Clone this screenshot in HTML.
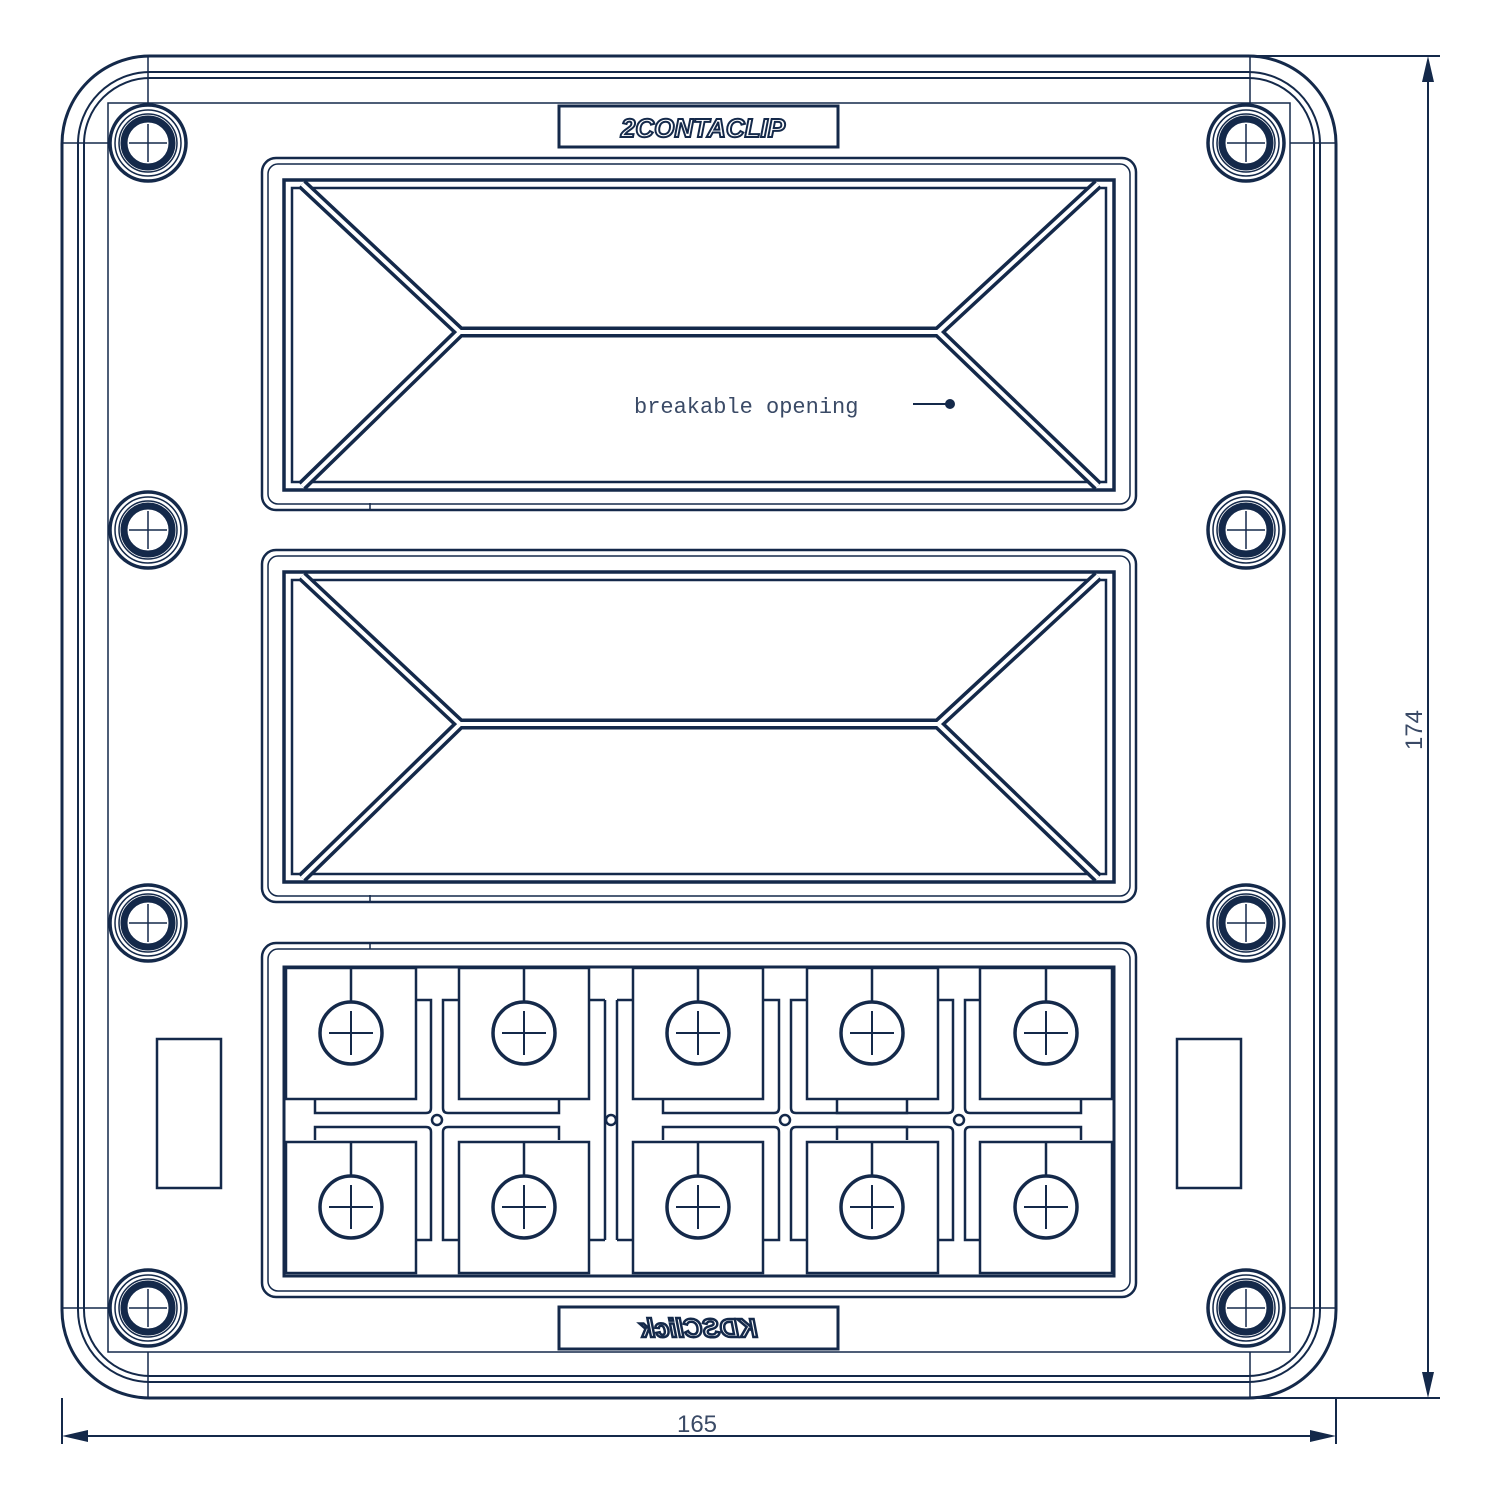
<!DOCTYPE html>
<html><head><meta charset="utf-8"><style>html,body{margin:0;padding:0;background:#fff}svg{display:block}</style></head>
<body>
<svg width="1500" height="1500" viewBox="0 0 1500 1500" xmlns="http://www.w3.org/2000/svg">
<defs>
<g id="screwhole" fill="none" stroke="#14294a">
<circle r="38" stroke-width="3.5"/>
<circle r="33" stroke-width="1.5"/>
<circle r="29" stroke-width="1.5"/>
<circle r="24" stroke-width="7"/>
<line x1="-19" y1="0" x2="19" y2="0" stroke-width="1.5"/>
<line x1="0" y1="-19" x2="0" y2="19" stroke-width="1.5"/>
</g>
<g id="term" fill="none" stroke="#14294a">
<circle r="31" stroke-width="3.5"/>
<line x1="-22" y1="0" x2="22" y2="0" stroke-width="2"/>
<line x1="0" y1="-22" x2="0" y2="22" stroke-width="2"/>
<line x1="0" y1="-31" x2="0" y2="-66" stroke-width="2.5"/>
</g>
<g id="cross" fill="none" stroke="#14294a" stroke-width="2.5">
<path d="M-21,-120 H-6 V-12 Q-6,-7 -11,-7 H-122 V-20"/>
<path d="M21,-120 H6 V-12 Q6,-7 11,-7 H122 V-20"/>
<path d="M-21,120 H-6 V12 Q-6,7 -11,7 H-122 V20"/>
<path d="M21,120 H6 V12 Q6,7 11,7 H122 V20"/>
<circle r="5"/>
</g>
<g id="win">
<rect x="262" y="158" width="874" height="352" rx="14" fill="none" stroke="#14294a" stroke-width="2.5"/>
<rect x="268" y="164" width="862" height="340" rx="10" fill="none" stroke="#14294a" stroke-width="1.5"/>
<line x1="370" y1="503" x2="370" y2="510" stroke="#14294a" stroke-width="1.5"/>
<rect x="284" y="180" width="830" height="310" fill="none" stroke="#14294a" stroke-width="3.5"/>
<rect x="292" y="188" width="814" height="294" fill="none" stroke="#14294a" stroke-width="2.5"/>
<g fill="none" stroke-linejoin="miter">
<path d="M302,184 L460,332 L302,486 M1098,184 L938,332 L1098,486 M460,332 H938" stroke="#14294a" stroke-width="11"/>
<path d="M302,184 L460,332 L302,486 M1098,184 L938,332 L1098,486 M460,332 H938" stroke="#fff" stroke-width="4"/>
</g>
</g>
</defs>

<g fill="none" stroke="#14294a">
<rect x="62" y="56" width="1274" height="1342" rx="88" stroke-width="3"/>
<rect x="78" y="72" width="1242" height="1310" rx="72" stroke-width="2"/>
<rect x="84" y="78" width="1230" height="1298" rx="66" stroke-width="2"/>
<rect x="108" y="103" width="1182" height="1249" stroke-width="1.5"/>
<line x1="148" y1="56" x2="148" y2="103" stroke-width="1.5"/>
<line x1="1250" y1="56" x2="1250" y2="103" stroke-width="1.5"/>
<line x1="148" y1="1352" x2="148" y2="1398" stroke-width="1.5"/>
<line x1="1250" y1="1352" x2="1250" y2="1398" stroke-width="1.5"/>
<line x1="62" y1="143" x2="108" y2="143" stroke-width="1.5"/>
<line x1="1290" y1="143" x2="1336" y2="143" stroke-width="1.5"/>
<line x1="62" y1="1308" x2="108" y2="1308" stroke-width="1.5"/>
<line x1="1290" y1="1308" x2="1336" y2="1308" stroke-width="1.5"/>
</g>

<use href="#screwhole" x="148" y="143"/>
<use href="#screwhole" x="1246" y="143"/>
<use href="#screwhole" x="148" y="530"/>
<use href="#screwhole" x="1246" y="530"/>
<use href="#screwhole" x="148" y="923"/>
<use href="#screwhole" x="1246" y="923"/>
<use href="#screwhole" x="148" y="1308"/>
<use href="#screwhole" x="1246" y="1308"/>

<rect x="559" y="106" width="279" height="41" fill="none" stroke="#14294a" stroke-width="3"/>
<text x="703" y="137" text-anchor="middle" font-family="Liberation Sans, sans-serif" font-size="26" font-weight="bold" font-style="italic" fill="#fff" stroke="#14294a" stroke-width="2">2CONTACLIP</text>
<rect x="559" y="1307" width="279" height="42" fill="none" stroke="#14294a" stroke-width="3"/>
<text transform="translate(1398,0) scale(-1,1)" x="699" y="1337" text-anchor="middle" font-family="Liberation Sans, sans-serif" font-size="26" font-weight="bold" font-style="italic" fill="#fff" stroke="#14294a" stroke-width="2.5">KDSClick</text>

<use href="#win"/>
<use href="#win" y="392"/>

<text x="634" y="413" font-family="Liberation Mono, monospace" font-size="22" fill="#3a4a66">breakable opening</text>
<line x1="913" y1="404" x2="948" y2="404" stroke="#14294a" stroke-width="2"/>
<circle cx="950" cy="404" r="5" fill="#14294a"/>

<g fill="none" stroke="#14294a">
<rect x="262" y="943" width="874" height="354" rx="14" stroke-width="2.5"/>
<rect x="268" y="949" width="862" height="342" rx="10" stroke-width="1.5"/>
<line x1="370" y1="943" x2="370" y2="949" stroke-width="1.5"/>
<rect x="284" y="967" width="830" height="309" stroke-width="3"/>
<g stroke-width="2.5">
<rect x="286" y="968" width="130" height="131"/>
<rect x="459" y="968" width="130" height="131"/>
<rect x="633" y="968" width="130" height="131"/>
<rect x="807" y="968" width="131" height="131"/>
<rect x="980" y="968" width="132" height="131"/>
<rect x="286" y="1142" width="130" height="131"/>
<rect x="459" y="1142" width="130" height="131"/>
<rect x="633" y="1142" width="130" height="131"/>
<rect x="807" y="1142" width="131" height="131"/>
<rect x="980" y="1142" width="132" height="131"/>
<line x1="605" y1="1000" x2="605" y2="1240"/>
<line x1="617" y1="1000" x2="617" y2="1240"/>
<path d="M589,1000 H605 M617,1000 H633 M589,1240 H605 M617,1240 H633"/>
<circle cx="611" cy="1120" r="5"/>
</g>
<rect x="157" y="1039" width="64" height="149" stroke-width="2.5"/>
<rect x="1177" y="1039" width="64" height="149" stroke-width="2.5"/>
</g>
<use href="#cross" x="437" y="1120"/>
<use href="#cross" x="785" y="1120"/>
<use href="#cross" x="959" y="1120"/>

<use href="#term" x="351" y="1033"/>
<use href="#term" x="524" y="1033"/>
<use href="#term" x="698" y="1033"/>
<use href="#term" x="872" y="1033"/>
<use href="#term" x="1046" y="1033"/>
<use href="#term" x="351" y="1207"/>
<use href="#term" x="524" y="1207"/>
<use href="#term" x="698" y="1207"/>
<use href="#term" x="872" y="1207"/>
<use href="#term" x="1046" y="1207"/>

<g stroke="#14294a" stroke-width="2" fill="#14294a">
<line x1="1250" y1="56" x2="1440" y2="56"/>
<line x1="1250" y1="1398" x2="1440" y2="1398"/>
<line x1="1428" y1="70" x2="1428" y2="1384"/>
<polygon points="1428,56 1422,82 1434,82" stroke="none"/>
<polygon points="1428,1398 1422,1372 1434,1372" stroke="none"/>
<line x1="62" y1="1398" x2="62" y2="1444"/>
<line x1="1336" y1="1398" x2="1336" y2="1444"/>
<line x1="70" y1="1436" x2="1325" y2="1436"/>
<polygon points="62,1436 88,1430 88,1442" stroke="none"/>
<polygon points="1336,1436 1310,1430 1310,1442" stroke="none"/>
</g>
<text x="697" y="1432" text-anchor="middle" font-family="Liberation Sans, sans-serif" font-size="24" fill="#3a4a66">165</text>
<text transform="translate(1422,730) rotate(-90)" text-anchor="middle" font-family="Liberation Sans, sans-serif" font-size="24" fill="#3a4a66">174</text>
</svg>
</body></html>
